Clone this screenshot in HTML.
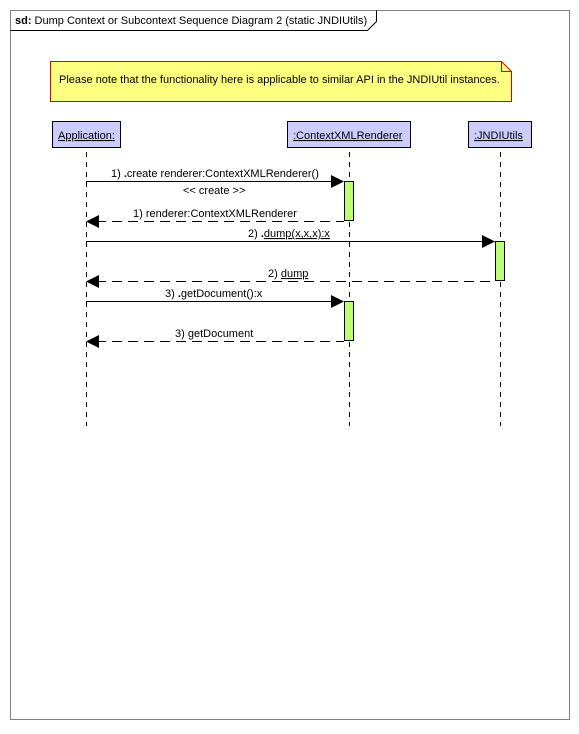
<!DOCTYPE html>
<html><head><style>body{margin:0;background:#fff}svg text{font-family:"Liberation Sans",sans-serif;font-size:11px;fill:#000}</style></head><body>
<svg width="579" height="729" xmlns="http://www.w3.org/2000/svg">
<rect x="10.5" y="10.5" width="559" height="709" fill="#fff" stroke="#808080"/>
<path d="M10.5 30.5 H367.5 L376.5 21.5 V10.5" fill="none" stroke="#000"/>
<text x="15" y="24"><tspan font-weight="bold">sd:</tspan> Dump Context or Subcontext Sequence Diagram  2 (static JNDIUtils)</text>
<path d="M50.5 61.5 H501.5 L511.5 71.5 V101.5 H50.5 Z" fill="#ffff80" stroke="#e00000"/>
<path d="M501.5 61.5 V71.5 H511.5" fill="none" stroke="#e00000"/>
<text x="59" y="83">Please note that the functionality here is applicable to similar API in the JNDIUtil instances.</text>
<g fill="#ccccff" stroke="#000">
<rect x="52.5" y="121.5" width="68" height="26"/>
<rect x="287.5" y="121.5" width="123" height="26"/>
<rect x="468.5" y="121.5" width="63" height="26"/>
</g>
<text x="58" y="139" text-decoration="underline">Application:</text>
<text x="293" y="139" text-decoration="underline">:ContextXMLRenderer</text>
<text x="474" y="139" text-decoration="underline">:JNDIUtils</text>
<g stroke="#000" stroke-dasharray="5,5">
<line x1="86.5" y1="152" x2="86.5" y2="426"/>
<line x1="349.5" y1="152" x2="349.5" y2="426"/>
<line x1="500.5" y1="152" x2="500.5" y2="426"/>
</g>
<g fill="#bbff77" stroke="#000">
<rect x="344.5" y="181.5" width="9" height="39"/>
<rect x="495.5" y="241.5" width="9" height="39"/>
<rect x="344.5" y="301.5" width="9" height="39"/>
</g>
<g stroke="#000">
<line x1="86" y1="181.5" x2="334" y2="181.5"/>
<line x1="86" y1="241.5" x2="485" y2="241.5"/>
<line x1="86" y1="301.5" x2="334" y2="301.5"/>
<g stroke-dasharray="10,6">
<line x1="96" y1="221.5" x2="344" y2="221.5"/>
<line x1="96" y1="281.5" x2="495" y2="281.5"/>
<line x1="96" y1="341.5" x2="344" y2="341.5"/>
</g>
</g>
<g fill="#000">
<path d="M344 181.5 L331 175 V188 Z"/>
<path d="M495 241.5 L482 235 V248 Z"/>
<path d="M344 301.5 L331 295 V308 Z"/>
<path d="M86 221.5 L99 215 V228 Z"/>
<path d="M86 281.5 L99 275 V288 Z"/>
<path d="M86 341.5 L99 335 V348 Z"/>
</g>
<text x="111" y="177">1) <tspan font-weight="bold">.</tspan>create renderer:ContextXMLRenderer()</text>
<text x="183" y="194">&lt;&lt; create &gt;&gt;</text>
<text x="133" y="217">1) renderer:ContextXMLRenderer</text>
<text x="248" y="237">2) <tspan font-weight="bold">.</tspan><tspan text-decoration="underline">dump(x,x,x):x</tspan></text>
<text x="268" y="277">2) <tspan text-decoration="underline">dump</tspan></text>
<text x="165" y="297">3) <tspan font-weight="bold">.</tspan>getDocument():x</text>
<text x="175" y="337">3) getDocument</text>
</svg>
</body></html>
